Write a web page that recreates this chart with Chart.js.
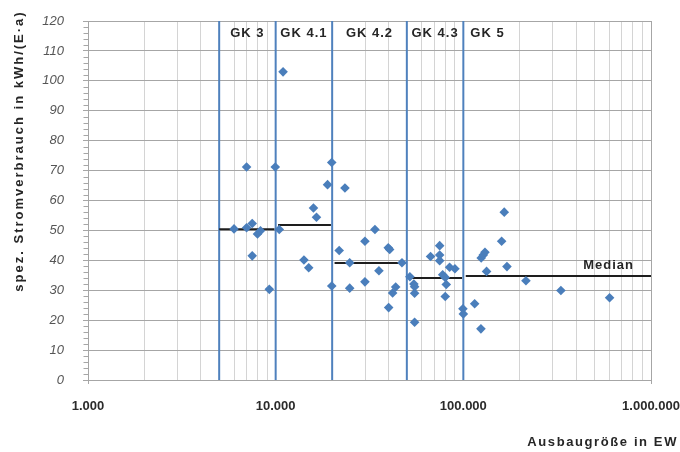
<!DOCTYPE html>
<html>
<head>
<meta charset="utf-8">
<script src="https://cdn.jsdelivr.net/npm/chart.js@4.4.1/dist/chart.umd.min.js"></script>
<style>
  html, body { margin: 0; padding: 0; background: #fff; }
  #wrap { width: 680px; height: 452px; }
</style>
</head>
<body>
<div id="wrap"><canvas id="chart" width="680" height="452"></canvas></div>
<script>
// Ausbaugröße (EW) and spez. Stromverbrauch (kWh/(E·a)) per plant
const ewValues = [
  6000, 7000, 7000, 7500, 7500, 8000, 8300, 9250, 9950,
  10450, 10950, 14150, 15000, 15900, 16500, 18900, 19900, 19900,
  21800, 23400, 24800, 24800, 29900, 29900, 33800, 35500, 39800, 40500, 40000, 43600, 42000, 47100,
  51900, 54500, 55000, 55000, 55000, 66900, 74800, 74800, 74800, 77600, 80100, 81100, 80100, 84500, 90200, 99500,
  100000, 114900, 124100, 124500, 127700, 130400, 133000, 160000, 165200, 170800, 215600, 331000, 601600
];
const stromValues = [
  50.5, 71.2, 50.9, 52.3, 41.5, 48.8, 49.9, 30.3, 71.2,
  50.3, 103, 40.1, 37.5, 57.5, 54.4, 65.3, 72.7, 31.4,
  43.3, 64.2, 39.2, 30.7, 46.4, 32.8, 50.3, 36.5, 44.2, 43.6, 24.2, 31.1, 29.1, 39.2,
  34.5, 32.1, 31.2, 29.0, 19.3, 41.3, 44.9, 41.8, 39.9, 35.2, 34.3, 31.9, 27.9, 37.7, 37.2, 23.8,
  22.1, 25.5, 17.1, 40.8, 41.8, 42.7, 36.3, 46.4, 56.1, 37.9, 33.2, 29.9, 27.5
];

// Größenklassen
const groupBounds = [5000, 10000, 20000, 50000, 100000, 1000000];
const groupLabels = ['GK 3', 'GK 4.1', 'GK 4.2', 'GK 4.3', 'GK 5'];
const medianValues = [50.4, 51.8, 39.1, 34.1, 34.8];

const xMajorTicks = [1000, 10000, 100000, 1000000];
const xTickLabels = ['1.000', '10.000', '100.000', '1.000.000'];
const yMin = 0, yMax = 120, yStep = 10;

const blue = '#4f81bd';
const pointBlue = '#4a7ebb';
const FONT = '"Liberation Sans", Arial, Helvetica, sans-serif';

const points = ewValues.map((v, i) => ({ x: v, y: stromValues[i] }));

const datasets = [{
  label: 'Anlagen',
  data: points,
  pointStyle: 'rectRot',
  pointRadius: 4.8,
  backgroundColor: pointBlue,
  borderColor: pointBlue,
  borderWidth: 0,
  order: 0
}];

// vertical class boundaries
groupBounds.slice(0, 5).forEach(b => {
  datasets.push({
    type: 'line',
    data: [{ x: b, y: yMin }, { x: b, y: yMax }],
    borderColor: blue,
    borderWidth: 2,
    pointRadius: 0,
    showLine: true,
    order: 2
  });
});

// median per class
medianValues.forEach((m, i) => {
  const from = i === 0 ? groupBounds[i] : groupBounds[i] * 1.03;
  const to = i === medianValues.length - 1 ? groupBounds[i + 1] : groupBounds[i + 1] * 0.985;
  datasets.push({
    type: 'line',
    data: [{ x: from, y: m }, { x: to, y: m }],
    borderColor: '#1e1e1e',
    borderWidth: 2,
    pointRadius: 0,
    showLine: true,
    order: 1
  });
});

const annotations = {
  id: 'annotations',
  afterDraw(chart) {
    const { ctx, scales: { x, y } } = chart;
    ctx.save();
    ctx.fillStyle = '#262626';
    ctx.textBaseline = 'middle';
    ctx.font = 'bold 13px ' + FONT;
    ctx.letterSpacing = '1px';

    // class labels
    groupLabels.forEach((lbl, i) => {
      if (i < 4) {
        const cx = (x.getPixelForValue(groupBounds[i]) + x.getPixelForValue(groupBounds[i + 1])) / 2;
        ctx.textAlign = 'center';
        ctx.fillText(lbl, cx, 33);
      } else {
        ctx.textAlign = 'left';
        ctx.fillText(lbl, x.getPixelForValue(groupBounds[i]) + 7, 33);
      }
    });

    // median label
    ctx.textAlign = 'right';
    ctx.fillText('Median', 634, 265);

    // axis titles
    ctx.letterSpacing = '1.6px';
    ctx.textAlign = 'right';
    ctx.fillText('Ausbaugröße in EW', 678, 442);

    ctx.save();
    ctx.letterSpacing = '2px';
    ctx.translate(19, 151);
    ctx.rotate(-Math.PI / 2);
    ctx.textAlign = 'center';
    ctx.fillText('spez. Stromverbrauch in kWh/(E·a)', 0, 0);
    ctx.restore();

    // minor ticks on y axis
    ctx.strokeStyle = '#a6a6a6';
    ctx.lineWidth = 1;
    const left = Math.round(x.left) + 0.5;
    for (let v = yMin; v <= yMax; v += 2) {
      if (v % yStep === 0) continue;
      const py = Math.round(y.getPixelForValue(v)) + 0.5;
      ctx.beginPath();
      ctx.moveTo(left - 5, py);
      ctx.lineTo(left, py);
      ctx.stroke();
    }
    // end ticks on x axis
    [x.left, x.right].forEach(px => {
      const p = Math.round(px) + 0.5;
      ctx.beginPath();
      ctx.moveTo(p, y.bottom);
      ctx.lineTo(p, y.bottom + 4);
      ctx.stroke();
    });
    ctx.restore();
  }
};

new Chart(document.getElementById('chart'), {
  type: 'scatter',
  data: { datasets },
  options: {
    responsive: false,
    animation: false,
    layout: { padding: { top: 21, right: 29, left: 0, bottom: 0 } },
    plugins: {
      legend: { display: false },
      tooltip: { enabled: false }
    },
    scales: {
      x: {
        type: 'logarithmic',
        min: 1000,
        max: 1000000,
        afterBuildTicks: scale => {
          const ticks = [];
          for (let d = 1000; d < 1000000; d *= 10) {
            for (let m = 1; m < 10; m++) ticks.push({ value: d * m });
          }
          ticks.push({ value: 1000000 });
          scale.ticks = ticks;
        },
        afterFit: scale => {
          scale.height = 72;
          scale.paddingLeft = 0;
          scale.paddingRight = 0;
        },
        border: { display: false },
        grid: {
          drawTicks: false,
          color: ctx => {
            const v = ctx.tick ? ctx.tick.value : 0;
            return xMajorTicks.includes(v) ? '#a6a6a6' : '#d4d4d4';
          },
          lineWidth: 1
        },
        ticks: {
          autoSkip: false,
          maxRotation: 0,
          padding: 19,
          color: '#2b2b2b',
          font: { family: FONT, size: 13, weight: 'bold' },
          callback: v => {
            const i = xMajorTicks.indexOf(v);
            return i >= 0 ? xTickLabels[i] : '';
          }
        }
      },
      y: {
        min: yMin,
        max: yMax,
        afterFit: scale => {
          scale.width = 88;
          scale.paddingTop = 0;
          scale.paddingBottom = 0;
        },
        border: { display: true, color: '#a6a6a6' },
        grid: { color: '#a6a6a6', tickLength: 5 },
        ticks: {
          stepSize: yStep,
          padding: 19,
          color: '#555555',
          font: { family: FONT, size: 13, style: 'italic' }
        }
      }
    }
  },
  plugins: [annotations]
});
</script>
</body>
</html>
